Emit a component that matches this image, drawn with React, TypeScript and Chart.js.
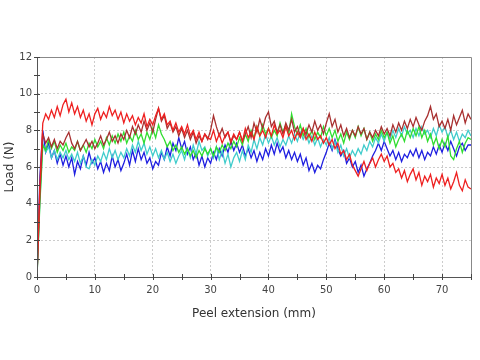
import React, { useEffect, useRef } from "react";
import { Chart, registerables } from "chart.js";

Chart.register(...registerables);

// Samples every 0.5 mm from 0 to 75 mm
const extensionStepMm = 0.5;

const redLoad = [
  0, 5.0, 8.4, 8.9, 8.6, 9.1, 8.7, 9.3, 8.8, 9.4,
  9.7, 9.0, 9.5, 8.9, 9.3, 8.7, 9.1, 8.5, 8.9, 8.3,
  8.9, 9.2, 8.6, 9.0, 8.7, 9.3, 8.8, 9.1, 8.6, 9.0,
  8.4, 8.9, 8.5, 8.8, 8.3, 8.7, 8.4, 8.9, 8.2, 8.6,
  8.3, 8.8, 9.2, 8.6, 8.9, 8.3, 8.5, 8.0, 8.4, 7.9,
  8.2, 7.8, 8.3, 7.7, 8.0, 7.5, 7.9, 7.4, 7.8, 7.6,
  7.5, 8.0, 7.4, 7.8, 7.3, 7.7, 7.9, 7.4, 7.8, 7.5,
  7.9, 7.4, 8.1, 7.6, 7.9, 7.5, 8.2, 7.7, 8.0, 7.6,
  8.1, 7.7, 8.3, 7.8, 8.0, 7.6, 8.2, 7.7, 8.0, 7.5,
  7.9, 7.6, 8.1, 7.5, 7.8, 7.4, 7.9, 7.5, 7.7, 7.3,
  7.6, 7.2, 7.5, 7.0, 7.3, 6.7, 6.9, 6.4, 6.7, 6.1,
  5.8, 5.5, 5.9, 6.3, 5.8, 6.2, 6.5, 6.0, 6.4, 6.7,
  6.3, 6.6, 6.0, 6.2, 5.7, 5.9, 5.4, 5.8, 5.2, 5.6,
  5.9, 5.3, 5.7, 5.0, 5.5, 5.2, 5.6, 4.9, 5.4, 5.1,
  5.6, 5.0, 5.4, 4.8, 5.2, 5.7, 5.0, 4.7, 5.3, 4.9,
  4.8,
];

const brownLoad = [
  0, 4.5, 7.8, 7.3, 7.6, 7.1, 7.5, 7.0, 7.4, 7.2,
  7.6, 7.9, 7.3, 7.0, 7.4, 6.9, 7.2, 7.5, 7.1, 7.4,
  7.0, 7.3, 7.7, 7.2, 7.5, 7.9, 7.4, 7.7, 7.3, 7.8,
  7.5, 8.0, 7.6, 8.2, 7.8, 8.3, 7.9, 8.5, 8.0, 8.4,
  7.9, 8.6, 9.2, 8.5, 8.8, 8.1, 8.4, 7.9, 8.2, 7.7,
  8.1, 7.6, 8.0, 7.5, 7.9, 7.3, 7.7, 7.4, 7.8, 7.5,
  8.0, 8.8, 8.2, 7.7, 8.1, 7.6, 7.9, 7.3, 7.7, 7.5,
  7.9, 7.4, 7.8, 8.2, 7.6, 8.4, 7.9, 8.6, 8.1, 8.7,
  9.0, 8.2, 8.5, 7.9, 8.3, 7.8, 8.4, 8.0, 8.6, 7.9,
  8.2, 7.7, 8.1, 7.8, 8.3, 7.9, 8.5, 8.0, 8.3, 7.8,
  8.4, 8.9, 8.2, 8.6, 7.9, 8.3, 7.7, 8.1, 7.6, 8.0,
  7.7, 8.2, 7.8, 8.1, 7.5, 7.9, 7.6, 8.0, 7.7, 8.2,
  7.8, 8.1, 7.7, 8.3, 7.9, 8.4, 8.0, 8.5, 8.1, 8.6,
  8.2, 8.7, 8.3, 8.0, 8.5, 8.8, 9.3, 8.6, 8.9, 8.2,
  8.5, 8.1, 8.6, 8.0, 8.8, 8.3, 8.7, 9.1, 8.4, 8.9,
  8.6,
];

const greenLoad = [
  0, 4.0, 7.2, 6.9, 7.5, 7.0, 7.4, 6.8, 7.2, 6.9,
  7.3, 6.8, 7.1, 6.9, 7.4, 6.9, 7.2, 6.8, 7.3, 7.0,
  7.5, 7.1, 7.4, 7.0, 7.6, 7.2, 7.7, 7.3, 7.8, 7.4,
  7.9, 7.3, 7.7, 7.4, 8.0, 7.5, 7.8, 7.3, 7.9, 7.5,
  8.1, 7.6, 8.3, 7.8, 7.5, 7.1, 7.4, 6.9, 7.2, 6.8,
  7.1, 6.7, 7.0, 6.6, 6.9, 6.5, 6.9, 6.6, 7.0, 6.7,
  7.0, 6.6, 7.1, 6.8, 7.2, 6.9, 7.3, 7.0, 7.4, 7.1,
  7.6, 7.2, 7.8, 7.4, 8.0, 7.6, 8.2, 7.7, 8.3, 7.8,
  8.1, 7.6, 8.0, 7.7, 8.4, 7.9, 8.3, 7.8, 8.9, 8.2,
  7.8, 8.3, 7.7, 8.1, 7.6, 8.0, 7.5, 7.9, 7.6, 8.2,
  7.7, 8.1, 7.6, 8.0, 7.4, 7.8, 7.3, 7.9, 7.5, 8.0,
  7.6, 8.2, 7.7, 8.1, 7.5, 7.9, 7.4, 7.8, 7.5, 8.0,
  7.6, 7.9, 7.3, 7.7, 7.1, 7.5, 7.8, 7.4, 8.0, 7.6,
  8.1, 7.7, 8.2, 7.6, 8.0, 7.4, 7.8, 7.2, 7.6, 7.0,
  7.5, 7.1, 7.7, 6.6, 6.4, 7.0, 7.4, 6.8, 7.3, 7.6,
  7.5,
];

const cyanLoad = [
  0, 4.2, 7.3, 6.8, 7.1, 6.5, 6.9, 6.4, 6.8, 6.5,
  6.9, 6.4, 6.7, 6.3, 6.8, 6.2, 6.6, 6.0, 5.9, 6.4,
  6.1, 6.6, 6.3, 6.8, 6.4, 7.0, 6.5, 6.9, 6.4, 6.8,
  6.5, 7.0, 6.6, 7.2, 6.8, 7.4, 6.9, 7.3, 6.7, 7.1,
  6.6, 7.0, 6.5, 6.9, 6.4, 6.8, 6.3, 6.7, 6.2, 6.6,
  6.9, 6.4, 7.0, 6.5, 7.2, 6.7, 7.4, 6.9, 7.1, 6.6,
  7.0, 6.5, 7.1, 6.4, 6.9, 6.2, 6.7, 6.0, 6.5, 6.8,
  6.3, 6.9, 6.4, 7.2, 6.8, 7.5, 7.0, 7.6, 7.2, 7.8,
  7.3, 7.7, 7.2, 7.6, 7.1, 7.5, 7.2, 7.7, 7.3, 7.8,
  7.4, 7.9, 7.5, 7.8, 7.3, 7.7, 7.2, 7.6, 7.1, 7.5,
  7.2, 7.6, 7.0, 7.4, 6.8, 7.2, 6.6, 7.0, 6.5, 6.9,
  6.6, 7.0, 6.7, 7.2, 6.9, 7.4, 7.1, 7.6, 7.3, 7.8,
  7.4, 7.9, 7.5, 8.0, 7.6, 8.1, 7.7, 8.2, 7.8, 8.0,
  7.6, 8.1, 7.7, 8.2, 7.8, 8.0, 7.6, 8.1, 7.7, 8.3,
  7.9, 8.2, 7.6, 8.0, 7.5, 7.9, 7.4, 7.8, 7.6, 8.0,
  7.7,
];

const blueLoad = [
  0, 5.5, 8.0, 6.8, 7.3, 6.5, 6.9, 6.2, 6.7, 6.1,
  6.6, 6.0, 6.5, 5.6, 6.3, 5.9, 6.6, 6.1, 6.8, 6.2,
  6.5, 5.9, 6.3, 5.7, 6.2, 5.8, 6.6, 6.0, 6.4, 5.8,
  6.2, 6.7, 6.1, 6.9, 6.3, 7.0, 6.4, 6.8, 6.2, 6.5,
  5.9, 6.3, 6.1, 6.8, 6.4, 7.1, 6.6, 7.3, 6.9, 7.6,
  7.0, 7.4, 6.7, 7.1, 6.4, 6.8, 6.1, 6.6, 6.0, 6.5,
  6.2, 6.8, 6.4, 7.0, 6.6, 7.2, 6.8, 7.4, 6.9, 7.3,
  6.8, 7.2, 6.6, 7.0, 6.5, 6.9, 6.3, 6.8, 6.4, 7.0,
  6.6, 7.2, 6.7, 7.3, 6.8, 7.1, 6.5, 6.9, 6.4, 6.8,
  6.3, 6.7, 6.1, 6.5, 5.8, 6.2, 5.7, 6.1, 5.9, 6.4,
  6.8, 7.3, 6.9, 7.5, 7.0, 6.6, 6.9, 6.2, 6.5, 6.0,
  6.3, 5.7, 6.1, 5.5, 5.9, 6.2, 6.6, 6.9, 7.3, 6.9,
  7.4, 7.0, 6.6, 6.9, 6.4, 6.8, 6.3, 6.7, 6.5, 6.9,
  6.6, 7.0, 6.5, 6.9, 6.4, 6.8, 6.6, 7.1, 6.7, 7.2,
  6.8, 7.3, 6.9, 7.4, 7.0, 6.6, 7.1, 7.3, 6.9, 7.2,
  7.2,
];

const seriesNames = ["Specimen 1", "Specimen 2", "Specimen 3", "Specimen 4", "Specimen 5"];
const seriesColors = ["#ee2020", "#a83030", "#30dd30", "#40cccc", "#1e1ee0"];
const seriesValues = [redLoad, brownLoad, greenLoad, cyanLoad, blueLoad];

const xTitle = "Peel extension (mm)";
const yTitle = "Load (N)";

const FONT = "'DejaVu Sans', Verdana, sans-serif";

const frameAndTicks = {
  id: "frameAndTicks",
  afterDraw(chart: any) {
    const { ctx, chartArea } = chart;
    const { left, right, top, bottom } = chartArea;
    const xs = chart.scales.x;
    const ys = chart.scales.y;
    ctx.save();
    ctx.lineWidth = 1;
    ctx.setLineDash([]);
    // box
    ctx.strokeStyle = "#888888";
    ctx.beginPath();
    ctx.moveTo(left, top + 0.5);
    ctx.lineTo(right + 0.5, top + 0.5);
    ctx.lineTo(right + 0.5, bottom);
    ctx.stroke();
    ctx.strokeStyle = "#555555";
    ctx.beginPath();
    ctx.moveTo(left + 0.5, top);
    ctx.lineTo(left + 0.5, bottom + 0.5);
    ctx.lineTo(right + 0.5, bottom + 0.5);
    ctx.stroke();
    // tick marks crossing the axes
    ctx.strokeStyle = "#444444";
    ctx.beginPath();
    for (let v = xs.min; v <= xs.max + 1e-9; v += 5) {
      const px = Math.round(xs.getPixelForValue(v)) + 0.5;
      ctx.moveTo(px, bottom - 3);
      ctx.lineTo(px, bottom + 3);
    }
    for (let v = ys.min; v <= ys.max + 1e-9; v += 1) {
      const py = Math.round(ys.getPixelForValue(v)) + 0.5;
      ctx.moveTo(left - 3, py);
      ctx.lineTo(left + 3, py);
    }
    ctx.stroke();
    ctx.restore();
  },
};

export default function App() {
  const canvasRef = useRef<HTMLCanvasElement | null>(null);

  useEffect(() => {
    const canvas = canvasRef.current;
    if (!canvas) return;
    const datasets = seriesValues.map((vals, si) => ({
      label: seriesNames[si],
      data: vals.map((y, i) => ({ x: i * extensionStepMm, y })),
      borderColor: seriesColors[si],
      backgroundColor: seriesColors[si],
      borderWidth: 1.3,
      pointRadius: 0,
      tension: 0,
      fill: false,
    }));

    const chart = new Chart(canvas, {
      type: "line",
      data: { datasets },
      plugins: [frameAndTicks],
      options: {
        responsive: false,
        animation: false,
        layout: { padding: { left: 0, top: 57, right: 9, bottom: 39 } },
        plugins: { legend: { display: false }, tooltip: { enabled: false } },
        scales: {
          x: {
            type: "linear",
            min: 0,
            max: 75,
            afterFit: (s: any) => {
              s.height = 44;
            },
            ticks: {
              stepSize: 5,
              padding: 7,
              maxRotation: 0,
              autoSkip: false,
              color: "#444444",
              font: { family: FONT, size: 10 },
              callback: (v: any) => (Number(v) % 10 === 0 ? String(v) : ""),
            },
            grid: {
              drawTicks: false,
              lineWidth: 1,
              color: (c: any) =>
                c.tick && c.tick.value % 10 === 0 && c.tick.value !== 0 ? "#cccccc" : "rgba(0,0,0,0)",
            },
            border: { display: false, dash: [2, 2] },
            title: {
              display: true,
              text: xTitle,
              color: "#333333",
              font: { family: FONT, size: 12 },
              padding: { top: 0, bottom: 0 },
            },
          },
          y: {
            type: "linear",
            min: 0,
            max: 12,
            afterFit: (s: any) => {
              s.width = 37;
            },
            ticks: {
              stepSize: 1,
              padding: 5,
              autoSkip: false,
              color: "#444444",
              font: { family: FONT, size: 10 },
              callback: (v: any) => (Number(v) % 2 === 0 ? String(v) : ""),
            },
            grid: {
              drawTicks: false,
              lineWidth: 1,
              color: (c: any) =>
                c.tick && c.tick.value % 2 === 0 && c.tick.value !== 0 ? "#cccccc" : "rgba(0,0,0,0)",
            },
            border: { display: false, dash: [2, 2] },
            title: {
              display: true,
              text: yTitle,
              color: "#333333",
              font: { family: FONT, size: 12 },
              padding: { top: 3, bottom: 0 },
            },
          },
        },
      },
    } as any);

    return () => chart.destroy();
  }, []);

  return (
    <div style={{ position: "fixed", left: 0, top: 0, width: 480, height: 360, background: "#ffffff" }}>
      <canvas ref={canvasRef} width={480} height={360} style={{ display: "block" }} />
    </div>
  );
}
